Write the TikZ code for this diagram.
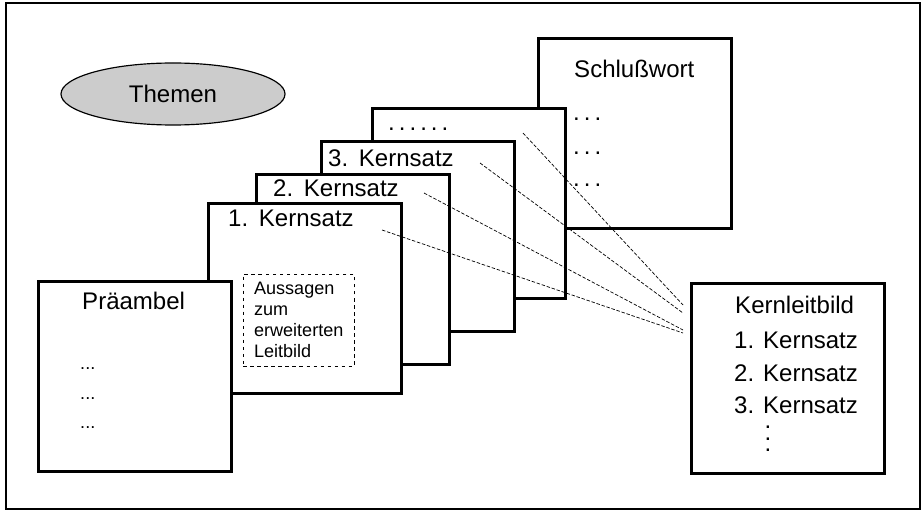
\documentclass[tikz,border=0pt]{standalone}
\usepackage{fontspec}
\setmainfont{Liberation Sans}
\usetikzlibrary{shapes.geometric}

\begin{document}
\begin{tikzpicture}[x=0.03cm, y=-0.03cm,
    font=\fontsize{20.5}{24}\selectfont,
    blatt/.style={draw, line width=2.5pt, fill=white, anchor=north west,
      inner sep=0pt, minimum width=5.79cm, minimum height=5.7cm},
    txt/.style={anchor=base west, inner sep=0pt},
    klein/.style={font=\fontsize{15.4}{17.9}\selectfont},
    verweis/.style={dash pattern=on 3pt off 1.5pt, line width=0.6pt}]
  \useasboundingbox (0,0) rectangle (923,512);
  \draw[line width=1.2pt] (6,3) rectangle (920,509);
  \node[draw, ellipse, line width=1pt, fill=black!20, minimum width=6.72cm,
    minimum height=1.86cm] (themen) at (173,94) {Themen};
  % Blaetter, von hinten nach vorne
  \node[blatt] (schluss) at (537,37) {};
  \node[txt] (t-schluss) at (574,78) {Schlußwort};
  \foreach \y [count=\i] in {121,155,187}
    \node[txt] (sp\i) at (573,\y) {.\,.\,.};
  \node[blatt] (punkte) at (371,107) {};
  \node[txt] (t-punkte) at (388,131) {.\,.\,.\,.\,.\,.};
  \node[blatt] (ks3) at (320,140) {};
  \node[txt] (t-ks3) at (328,167) {3.\ \,Kernsatz};
  \node[blatt] (ks2) at (255,173) {};
  \node[txt] (t-ks2) at (273,197) {2.\ \,Kernsatz};
  \node[blatt] (ks1) at (207,202) {};
  \node[txt] (t-ks1) at (228,227) {1.\ \,Kernsatz};
  \node[draw, dashed, klein, align=left, anchor=north west, minimum width=3.33cm,
    minimum height=2.76cm] (aussage) at (243,274) {Aussagen\\zum\\erweiterten\\Leitbild};
  \node[blatt] (pre) at (37,280) {};
  \node[txt] (t-pre) at (82,309) {Präambel};
  \foreach \y [count=\i] in {369,399,428}
    \node[txt, klein] (pp\i) at (80,\y) {...};
  % Kernleitbild
  \node[blatt] (leitbild) at (690,282) {};
  \node[txt] (t-leitbild) at (735,313) {Kernleitbild};
  \foreach \i/\y in {1/348,2/381,3/413}
    \node[txt] (kl\i) at (734,\y) {\i. Kernsatz};
  \node[anchor=north, inner sep=0pt, align=center,
    font=\fontsize{20.5}{9.8}\selectfont] (vdots) at (768,426) {.\\.\\.};
  % Verweise
  \coordinate (a1) at (382,230);
  \coordinate (a2) at (424,193);
  \coordinate (a3) at (480,163);
  \coordinate (a4) at (523,133);
  \coordinate (b1) at (683,333);
  \coordinate (b2) at (683,330);
  \coordinate (b3) at (683,313);
  \coordinate (b4) at (683,305);
  \foreach \i in {1,...,4}
    \draw[verweis] (a\i) -- (b\i);
\end{tikzpicture}
\end{document}
